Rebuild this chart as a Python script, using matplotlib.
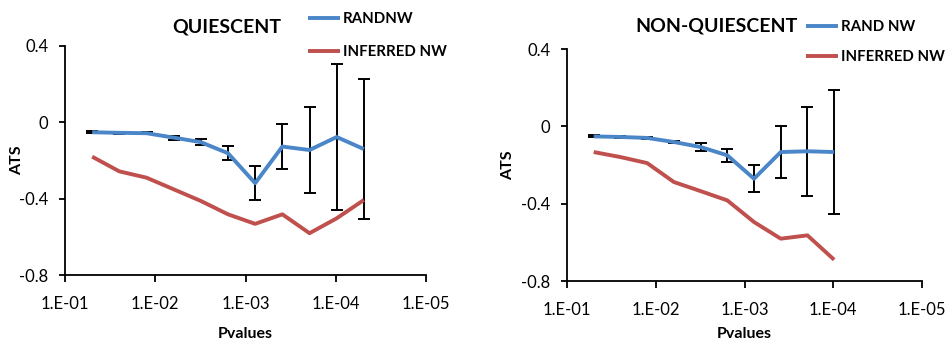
import matplotlib
matplotlib.use("Agg")
import matplotlib.pyplot as plt
from matplotlib.ticker import FixedLocator, NullLocator, FixedFormatter

plt.rcParams['font.family'] = ['Lato', 'DejaVu Sans']

# ---- data ----
pvals_q = [0.05, 0.025, 0.0125, 0.00625, 0.003125, 0.0015625, 0.00078125,
           0.000390625, 0.0001953125, 0.00009765625, 0.000048828125]
rand_q = [-0.052, -0.055, -0.057, -0.080, -0.104, -0.162, -0.319, -0.127, -0.145, -0.077, -0.140]
rand_q_err = [0.005, 0.004, 0.005, 0.010, 0.016, 0.038, 0.089, 0.120, 0.224, 0.381, 0.365]
inf_q = [-0.180, -0.257, -0.290, -0.351, -0.412, -0.482, -0.532, -0.482, -0.581, -0.503, -0.407]

pvals_n = pvals_q[:10]
rand_n = [-0.052, -0.055, -0.060, -0.081, -0.107, -0.150, -0.271, -0.133, -0.129, -0.133]
rand_n_err = [0.005, 0.003, 0.004, 0.006, 0.019, 0.035, 0.069, 0.133, 0.229, 0.319]
inf_n = [-0.133, -0.159, -0.190, -0.288, -0.335, -0.383, -0.495, -0.581, -0.564, -0.690]

xticks = [1e-1, 1e-2, 1e-3, 1e-4, 1e-5]
xticklabels = ['1.E-01', '1.E-02', '1.E-03', '1.E-04', '1.E-05']
yticks = [-0.8, -0.4, 0.0, 0.4]
yticklabels = ['-0.8', '-0.4', '0', '0.4']

BLUE = '#4A86C8'
RED = '#C0504D'

W, H = 946, 341
fig = plt.figure(figsize=(W / 100, H / 100), dpi=100)


def px_axes(l, r, t, b):
    return fig.add_axes([l / W, 1 - b / H, (r - l) / W, (b - t) / H])


def draw(ax, x, rand, err, inf, title, title_xy, labels, leg_xy, spacing,
         xlab_xy, ylab_x):
    ax.errorbar(x, rand, yerr=err, fmt='none', ecolor='black', elinewidth=1.4,
                capsize=4, capthick=1.4, zorder=2)
    l1, = ax.plot(x, rand, color=BLUE, lw=2.8, zorder=3, solid_capstyle='butt')
    l2, = ax.plot(x, inf, color=RED, lw=2.8, zorder=3, solid_capstyle='butt')
    ax.set_xscale('log')
    ax.set_xlim(1e-1, 1e-5)
    ax.set_ylim(-0.8, 0.4)
    ax.xaxis.set_major_locator(FixedLocator(xticks))
    ax.xaxis.set_major_formatter(FixedFormatter(xticklabels))
    ax.xaxis.set_minor_locator(NullLocator())
    ax.set_yticks(yticks)
    ax.set_yticklabels(yticklabels)
    for s in ['top', 'right']:
        ax.spines[s].set_visible(False)
    for s in ['left', 'bottom']:
        ax.spines[s].set_linewidth(1.3)
    ax.tick_params(direction='out', length=4, width=1.3, labelsize=12)
    ax.tick_params(axis='x', length=5, pad=10)
    ax.tick_params(axis='y', pad=8)
    ax.set_xlabel('Pvalues', fontsize=11.5, fontweight='bold')
    ax.set_ylabel('ATS', fontsize=11.5, fontweight='bold')
    ax.xaxis.set_label_coords(xlab_xy[0], xlab_xy[1])
    ax.yaxis.set_label_coords(ylab_x, 0.5)
    ax.text(title_xy[0], title_xy[1], title, transform=ax.transAxes, ha='center',
            va='center', fontsize=14, fontweight='bold')
    leg = ax.legend([l1, l2], labels, loc='upper left',
                    bbox_to_anchor=(leg_xy[0] / W, 1 - leg_xy[1] / H),
                    bbox_transform=fig.transFigure, frameon=False,
                    borderpad=0, borderaxespad=0, handlelength=2.1,
                    handletextpad=0.2, labelspacing=spacing,
                    prop={'weight': 'bold', 'size': 10.8})
    return leg


ax1 = px_axes(65, 426, 46, 275)
draw(ax1, pvals_q, rand_q, rand_q_err, inf_q, 'QUIESCENT', (0.449, 1.083),
     ['RANDNW', 'INFERRED NW'], (308, 12), 1.25, (0.5, -0.225), -0.114)

ax2 = px_axes(567, 922, 49, 281)
draw(ax2, pvals_n, rand_n, rand_n_err, inf_n, 'NON-QUIESCENT', (0.42, 1.10),
     ['RAND NW', 'INFERRED NW'], (806, 20), 1.05, (0.498, -0.198), -0.146)

fig.savefig('out.png', dpi=100)
